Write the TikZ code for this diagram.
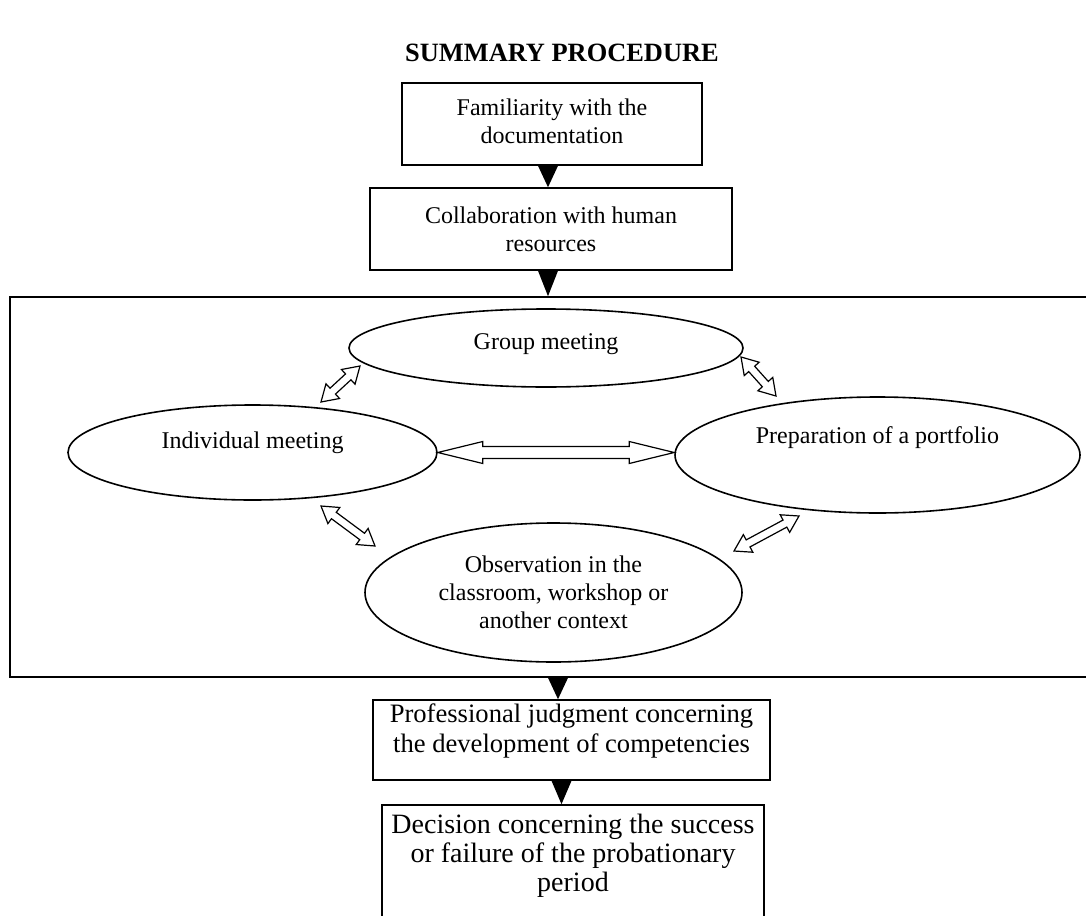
\documentclass[tikz,border=0pt]{standalone}
\usepackage{fontspec}
\setmainfont{Liberation Serif}
\usetikzlibrary{calc,shapes.geometric}

% hollow two-headed arrow: from, to, head length, head half width, shaft half width
\newcommand{\hollowarrow}[5]{%
	\draw[line width=0.6pt, fill=white] (#1)
		-- ($(#1)!#3!(#2)!#4!90:(#2)$)
		-- ($(#1)!#3!(#2)!#5!90:(#2)$)
		-- ($(#2)!#3!(#1)!#5!-90:(#1)$)
		-- ($(#2)!#3!(#1)!#4!-90:(#1)$)
		-- (#2)
		-- ($(#2)!#3!(#1)!#4!90:(#1)$)
		-- ($(#2)!#3!(#1)!#5!90:(#1)$)
		-- ($(#1)!#3!(#2)!#5!-90:(#2)$)
		-- ($(#1)!#3!(#2)!#4!-90:(#2)$)
		-- cycle;}
% black triangle from the bottom of one node down to the top of the next
\newcommand{\flowtip}[3][0pt]{%
	\fill ($(#2.south)+(#1,0pt)$) ++(-5pt,0pt) -- ++(10pt,0pt) -- ($(#2.south |- #3.north)+(#1,0pt)$) -- cycle;}

\begin{document}
\begin{tikzpicture}[x=0.5pt, y=-0.5pt, line width=0.8pt,
	every node/.style={font=\fontsize{12}{14}\selectfont, align=center},
	stepbox/.style={draw, rectangle, inner sep=0pt},
	topic/.style={draw, ellipse, inner sep=0pt}]
	\useasboundingbox (0,0) rectangle (1086,915);
	\node[font=\fontsize{13.2}{15}\selectfont\bfseries] (title) at (562,53) {SUMMARY PROCEDURE};
	\node[stepbox, minimum width=150pt, minimum height=41pt, text depth=2.5pt] (famil) at (552,124) {Familiarity with the\\documentation};
	\node[stepbox, minimum width=181pt, minimum height=41pt] (collab) at (551,229) {Collaboration with human\\resources};
	\node[stepbox, minimum width=545pt, minimum height=190pt] (frame) at (555,487) {};
	\node[topic, minimum width=197pt, minimum height=39pt, text depth=6.5pt] (grp) at (546,348) {Group meeting};
	\node[topic, minimum width=184.5pt, minimum height=47.5pt, text depth=12pt] (indiv) at (252.5,452.5) {Individual meeting};
	\node[topic, minimum width=202.5pt, minimum height=58pt, text depth=20pt] (prep) at (877.5,455) {Preparation of a portfolio};
	\node[topic, minimum width=188.5pt, minimum height=69.5pt] (obs) at (553.5,592.5) {Observation in the\\classroom, workshop or\\another context};
	\node[stepbox, minimum width=198.5pt, minimum height=40pt, text depth=12pt, font=\fontsize{13.3}{15}\selectfont] (judg) at (571.5,740) {Professional judgment concerning\\the development of competencies};
	\node[stepbox, minimum width=191pt, minimum height=65pt, text depth=17pt, font=\fontsize{14}{14.5}\selectfont] (decis) at (573,870) {Decision concerning the success\\or failure of the probationary\\period};

	% downward triangles
	\flowtip[-2pt]{famil}{collab}
	\flowtip[-1.5pt]{collab}{frame}
	\flowtip[1.5pt]{frame}{judg}
	\flowtip[-5pt]{judg}{decis}

	% free ends of the short arrows
	\coordinate (ig1) at (321,402);
	\coordinate (ig2) at (360,366);
	\coordinate (gp1) at (741,357);
	\coordinate (gp2) at (776,396);
	\coordinate (io1) at (321,506);
	\coordinate (io2) at (375,546);
	\coordinate (op1) at (734,551);
	\coordinate (op2) at (799,516);
	\coordinate (ip2) at (indiv.east -| prep.west);
	\hollowarrow{ig1}{ig2}{8pt}{5pt}{2pt}
	\hollowarrow{gp1}{gp2}{8pt}{5pt}{2pt}
	\hollowarrow{io1}{io2}{8pt}{5pt}{2pt}
	\hollowarrow{op1}{op2}{8pt}{5pt}{2pt}
	\hollowarrow{indiv.east}{ip2}{22.5pt}{5.5pt}{3pt}
\end{tikzpicture}
\end{document}
